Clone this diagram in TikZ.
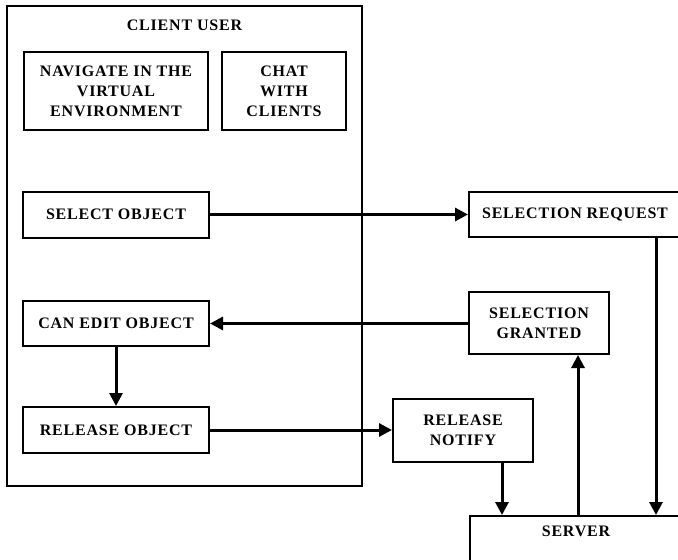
\documentclass[tikz,border=0pt]{standalone}
\usepackage{fontspec}
\setmainfont{Liberation Serif}[LetterSpace=5]
\usetikzlibrary{arrows.meta}
\begin{document}
\begin{tikzpicture}[x=1pt,y=-1pt,
  lbl/.style={font=\bfseries\fontsize{16}{20}\selectfont},
  box/.style={draw,line width=2pt,align=center,inner sep=0pt,lbl},
  conn/.style={line width=3pt,-{Triangle[length=13pt,width=13pt]}}]
\clip (0,0) rectangle (678,560);
\useasboundingbox (0,0) rectangle (678,560);
\node[box,minimum width=355pt,minimum height=480pt] (client) at (184.5,246) {};
\node[lbl] (title) at (184.5,25) {CLIENT USER};
\node[box,minimum width=184pt,minimum height=78pt] (nav) at (116,91) {NAVIGATE IN THE\\VIRTUAL\\ENVIRONMENT};
\node[box,minimum width=124pt,minimum height=78pt] (chat) at (284,91) {CHAT\\WITH\\CLIENTS};
\node[box,minimum width=186pt,minimum height=46pt] (sel) at (116,214.5) {SELECT OBJECT};
\node[box,minimum width=186pt,minimum height=45pt] (edit) at (116,323.5) {CAN EDIT OBJECT};
\node[box,minimum width=186pt,minimum height=46pt] (rel) at (116,430) {RELEASE OBJECT};
\node[box,minimum width=212pt,minimum height=45pt] (req) at (575,214.5) {SELECTION REQUEST};
\node[box,minimum width=140pt,minimum height=62pt] (gr) at (539,323) {SELECTION\\GRANTED};
\node[box,minimum width=140pt,minimum height=63pt] (rn) at (463,430) {RELEASE\\NOTIFY};
\node[box,minimum width=212pt,minimum height=70pt,anchor=north] (srv) at (576,515) {};
\node[lbl] (srvt) at (576,531) {SERVER};
\draw[conn] (sel.east) -- (req.west);
\draw[conn] (gr.west |- edit.east) -- (edit.east);
\draw[conn] (rel.east) -- (rn.west);
\draw[conn] (edit.south) -- (rel.north);
\coordinate (a) at (656,0);
\coordinate (b) at (578,0);
\coordinate (c) at (502,0);
\draw[conn] (a |- req.south) -- (a |- srv.north);
\draw[conn] (b |- srv.north) -- (b |- gr.south);
\draw[conn] (c |- rn.south) -- (c |- srv.north);
\end{tikzpicture}
\end{document}
